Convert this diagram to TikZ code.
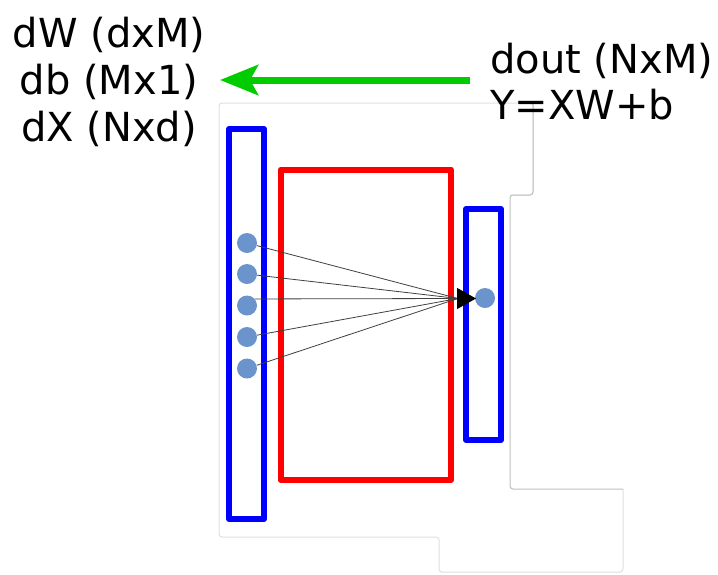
\documentclass[tikz,border=0pt]{standalone}
\usepackage{fontspec}
\setmainfont{DejaVu Sans}
\usetikzlibrary{arrows.meta}
\definecolor{neuron}{RGB}{108,148,204}
\definecolor{gradgreen}{RGB}{0,204,0}
\definecolor{pureblue}{RGB}{0,0,255}
\definecolor{purered}{RGB}{255,0,0}
\begin{document}
\begin{tikzpicture}[x=1pt,y=-1pt,
  lbl/.style={font=\fontsize{40}{47}\selectfont, inner sep=0pt, text=black},
  layerbox/.style={draw=pureblue, line width=6pt, line join=round},
  weightbox/.style={draw=purered, line width=6pt, line join=round},
  unit/.style={circle, fill=neuron, minimum size=20pt, inner sep=0pt},
  wire/.style={draw=black!75, line width=0.8pt},
  faint/.style={draw=black!12, line width=1pt, rounded corners=3pt},
  faintdark/.style={draw=black!25, line width=1pt, rounded corners=3pt}
]
\useasboundingbox (0,0) rectangle (718,574);
\fill[white] (0,0) rectangle (718,574);
% faint screenshot outline
\draw[faint] (510,195) -- (533,195) -- (533,103) -- (219,103) -- (219,537) -- (439,537) -- (439,572) -- (623,572) -- (623,489);
\draw[faintdark] (533,103) -- (533,195) -- (510,195) -- (510,489) -- (623,489);
% boxes
\draw[layerbox] (229,129) rectangle (264,519);
\draw[weightbox] (280.5,169.5) rectangle (451,480);
\draw[layerbox] (466,209) rectangle (501,440);
% units
\node[unit] (x1) at (247,243) {};
\node[unit] (x2) at (247,274) {};
\node[unit] (x3) at (247,305.5) {};
\node[unit] (x4) at (247,337) {};
\node[unit] (x5) at (247,368.5) {};
\node[unit] (y1) at (485,298) {};
\coordinate (conv) at (458,298.5);
\coordinate (tip) at (476,298.5);
\draw[wire] (x1) -- (conv);
\draw[wire] (x2) -- (conv);
\draw[wire] (x3.40) -- (conv);
\draw[wire] (x4) -- (conv);
\draw[wire] (x5) -- (conv);
\draw[black, line width=0.8pt, -{Triangle[length=19pt,width=21pt,fill=black]}] (conv) -- (tip);
% labels
\node[lbl, align=center] (grads) at (109,82) {dW (dxM)\\db (Mx1)\\dX (Nxd)};
\node[lbl, align=left, anchor=west] (fwd) at (490,82) {dout (NxM)\\[-1pt]Y=XW+b};
% green arrow
\coordinate (gs) at (470,80);
\coordinate (ge) at (220,80);
\draw[gradgreen, line width=7pt, -{Stealth[length=38pt,width=30pt,inset=8pt]}] (gs) -- (ge);
\end{tikzpicture}
\end{document}
